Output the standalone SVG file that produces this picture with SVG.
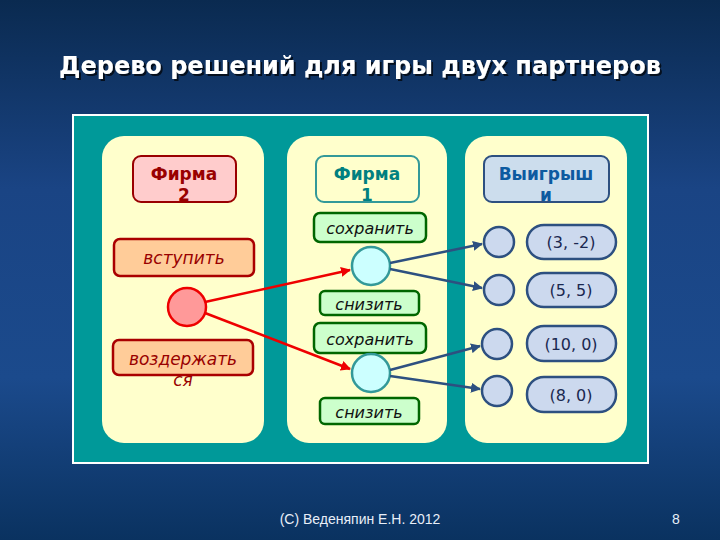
<svg xmlns="http://www.w3.org/2000/svg" width="720" height="540" viewBox="0 0 720 540">
<defs>
<linearGradient id="bg" x1="0" y1="0" x2="0" y2="1">
<stop offset="0" stop-color="#0a2a50"/>
<stop offset="0.35" stop-color="#1a4484"/>
<stop offset="0.7" stop-color="#1b4a8c"/>
<stop offset="1" stop-color="#0a3260"/>
</linearGradient>
<filter id="sh" x="-5%" y="-30%" width="110%" height="160%">
<feDropShadow dx="2" dy="2" stdDeviation="0.5" flood-color="#000" flood-opacity="0.7"/>
</filter>
<marker id="ar" viewBox="0 0 10 10" refX="9" refY="5" markerWidth="4" markerHeight="4" orient="auto" markerUnits="strokeWidth">
<path d="M0,0 L10,5 L0,10 z" fill="#ee0000"/>
</marker>
<marker id="ab" viewBox="0 0 10 10" refX="9" refY="5" markerWidth="4" markerHeight="4" orient="auto" markerUnits="strokeWidth">
<path d="M0,0 L10,5 L0,10 z" fill="#2d5080"/>
</marker>
</defs>
<style>
.col{fill:#ffffcc}
.t{font-family:"DejaVu Sans",Verdana,sans-serif;text-anchor:middle}
.b{font-weight:bold;font-size:17px}
.i{font-style:italic;font-size:17px}
.red{fill:#990000}
.grn{fill:#ccffcc;stroke:#006600;stroke-width:2.5}
.gt{fill:#111;font-size:16px;font-style:italic}
.pill{fill:#ccd9ee;stroke:#2d5080;stroke-width:2.5}
.pt{fill:#1a2850;font-size:16px}
.sc{fill:#ccd9ee;stroke:#2d5080;stroke-width:2.5}
.rl{stroke:#ee0000;stroke-width:2.5;fill:none}
.bl{stroke:#2d5080;stroke-width:2.5;fill:none}
</style>
<rect width="720" height="540" fill="url(#bg)"/>
<text x="360" y="74" class="t" font-size="24" font-weight="bold" fill="#ffffff" filter="url(#sh)">Дерево решений для игры двух партнеров</text>
<rect x="73" y="115" width="575" height="348" fill="#009999" stroke="#ffffff" stroke-width="2"/>
<rect x="102" y="136" width="162" height="307" rx="22" class="col"/>
<rect x="287" y="136" width="160" height="307" rx="22" class="col"/>
<rect x="465" y="136" width="162" height="307" rx="22" class="col"/>
<g id="firm2">
<rect x="133" y="156" width="103" height="46" rx="8" fill="#ffcccc" stroke="#990000" stroke-width="2"/>
<text x="184" y="180" class="t b red">Фирма</text>
<text x="184" y="201" class="t b red">2</text>
</g>
<g id="enter">
<rect x="114" y="239" width="140" height="37" rx="6" fill="#ffcc99" stroke="#aa0000" stroke-width="2.5"/>
<text x="184" y="264" class="t i red">вступить</text>
</g>
<g id="abstain">
<rect x="113" y="340" width="140" height="35" rx="6" fill="#ffcc99" stroke="#aa0000" stroke-width="2.5"/>
<text x="183" y="365" class="t i red">воздержать</text>
<text x="183" y="386" class="t i red">ся</text>
</g>
<g id="root">
<circle cx="187" cy="307" r="19" fill="#ff9999" stroke="#ee0000" stroke-width="2.5"/>
</g>
<g id="firm1">
<rect x="316" y="156" width="103" height="46" rx="8" fill="#ffffcc" stroke="#339999" stroke-width="2"/>
<text x="367" y="180" class="t b" fill="#008080">Фирма</text>
<text x="367" y="201" class="t b" fill="#008080">1</text>
</g>
<g id="keep1">
<rect x="314" y="213" width="112" height="29" rx="6" class="grn"/>
<text x="370" y="234" class="t gt">сохранить</text>
</g>
<g id="cut1">
<rect x="320" y="291" width="99" height="24" rx="5" class="grn"/>
<text x="369" y="310" class="t gt">снизить</text>
</g>
<g id="keep2">
<rect x="314" y="323" width="112" height="30" rx="6" class="grn"/>
<text x="370" y="345" class="t gt">сохранить</text>
</g>
<g id="cut2">
<rect x="320" y="398" width="99" height="26" rx="5" class="grn"/>
<text x="369" y="418" class="t gt">снизить</text>
</g>
<g id="n1">
<circle cx="371" cy="266" r="19" fill="#ccffff" stroke="#339999" stroke-width="2.5"/>
</g>
<g id="n2">
<circle cx="371" cy="373" r="19" fill="#ccffff" stroke="#339999" stroke-width="2.5"/>
</g>
<g id="payoffs">
<rect x="484" y="156" width="125" height="46" rx="8" fill="#ccdded" stroke="#2d5080" stroke-width="2"/>
<text x="546" y="180" class="t b" fill="#0d5aa0">Выигрыш</text>
<text x="546" y="201" class="t b" fill="#0d5aa0">и</text>
</g>
<g id="l1"><circle cx="499" cy="242" r="15" class="sc"/></g>
<g id="l2"><circle cx="499" cy="290" r="15" class="sc"/></g>
<g id="l3"><circle cx="497" cy="344" r="15" class="sc"/></g>
<g id="l4"><circle cx="497" cy="391" r="15" class="sc"/></g>
<g id="p1"><rect x="527" y="225" width="89" height="34" rx="17" class="pill"/><text x="571" y="248" class="t pt">(3, -2)</text></g>
<g id="p2"><rect x="527" y="273" width="89" height="34" rx="17" class="pill"/><text x="571" y="296" class="t pt">(5, 5)</text></g>
<g id="p3"><rect x="527" y="326" width="89" height="35" rx="17" class="pill"/><text x="571" y="350" class="t pt">(10, 0)</text></g>
<g id="p4"><rect x="527" y="377" width="89" height="35" rx="17" class="pill"/><text x="571" y="401" class="t pt">(8, 0)</text></g>
<g id="connectors">
<line x1="205" y1="302" x2="350" y2="270" class="rl" marker-end="url(#ar)"/>
<line x1="205" y1="313" x2="350" y2="369" class="rl" marker-end="url(#ar)"/>
<line x1="390" y1="263" x2="482" y2="244" class="bl" marker-end="url(#ab)"/>
<line x1="390" y1="269" x2="482" y2="288" class="bl" marker-end="url(#ab)"/>
<line x1="390" y1="370" x2="480" y2="346" class="bl" marker-end="url(#ab)"/>
<line x1="390" y1="376" x2="480" y2="389" class="bl" marker-end="url(#ab)"/>
</g>
<text x="360" y="524" font-family="Liberation Sans,Arial,sans-serif" font-size="14" fill="#e8eef8" text-anchor="middle">(С) Веденяпин Е.Н. 2012</text>
<text x="676" y="524" font-family="Liberation Sans,Arial,sans-serif" font-size="14" fill="#e8eef8" text-anchor="middle">8</text>
</svg>
